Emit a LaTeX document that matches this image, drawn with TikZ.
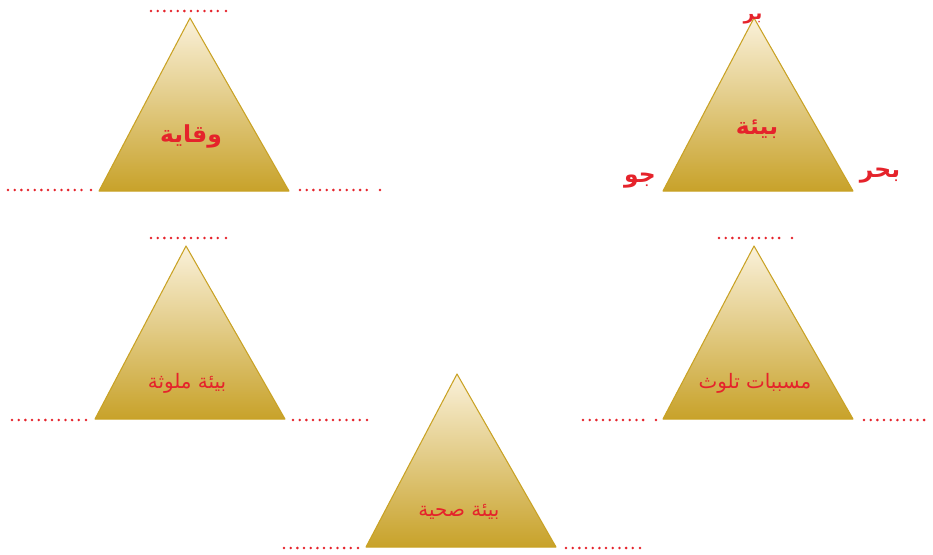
\documentclass[tikz,border=0pt]{standalone}
\usepackage{fontspec}
\usepackage{xcolor}
\usepackage{tikz}
\usetikzlibrary{calc}
\TeXXeTstate=1
\newfontfamily\arabicfont[Script=Arabic]{DejaVu Sans}
\definecolor{pyrtop}{HTML}{FAF1DA}
\definecolor{pyrbot}{HTML}{C8A22A}
\definecolor{pyredge}{HTML}{C9A224}
\definecolor{wordred}{HTML}{E5232B}
\newcommand{\ar}[1]{\arabicfont\beginR #1\endR}

\begin{document}
\begin{tikzpicture}[
    x=0.03cm,y=-0.03cm,
    pyramid/.style={draw=pyredge,line width=0.9pt,line join=round,top color=pyrtop,bottom color=pyrbot},
    word/.style={text=wordred,font=\fontsize{17}{20}\selectfont\arabicfont,inner sep=1pt},
    bigword/.style={word,font=\fontsize{20}{24}\selectfont\bfseries\arabicfont},
    blank/.style={draw=wordred,line width=2.4pt,line cap=round,dash pattern=on 0pt off 5.7pt}
  ]
    \useasboundingbox (0,0) rectangle (933,554);
    % pyramids: name / apex
    \foreach \n/\x/\y in {wiq/190/18,bia/754/18,mlw/186/246,sbb/754/246,sha/457/374}{
      \coordinate (\n-t) at (\x,\y);
      \coordinate (\n-l) at (\x-91,\y+173);
      \coordinate (\n-r) at (\x+99,\y+173);
      \draw[pyramid] (\n-t) -- (\n-l) -- (\n-r) -- cycle;
    }
    \node[bigword] (wiqaya) at (191,136) {\ar{وقاية}};
    \node[bigword] (biaa) at (757,129) {\ar{بيئة}};
    \node[bigword,font=\fontsize{16}{18}\selectfont\bfseries\arabicfont,inner sep=0pt,anchor=base] (barr) at (753,19) {\ar{بر}};
    \node[bigword] (jaw) at (640,181) {\ar{جو}};
    \node[bigword] (bahr) at (880,176) {\ar{بحر}};
    \node[word] (mulawwatha) at (187,383) {\ar{بيئة ملوثة}};
    \node[word] (musabbibat) at (755,383) {\ar{مسببات تلوث}};
    \node[word] (sihhiya) at (459,512) {\ar{بيئة صحية}};
    % dotted blanks: from / to / height
    \foreach \a/\b/\h in {151/226/11,8/91/190,300/380/190,
                          151/226/238,12/86/420,293/367/420,
                          719/792/238,583/656/420,864/937/420,
                          284/358/548,566/640/548}{
      \draw[blank] (\a,\h) -- (\b-7,\h);
      \fill[wordred] (\b,\h) circle (1.2pt);
    }
  \end{tikzpicture}
\end{document}
